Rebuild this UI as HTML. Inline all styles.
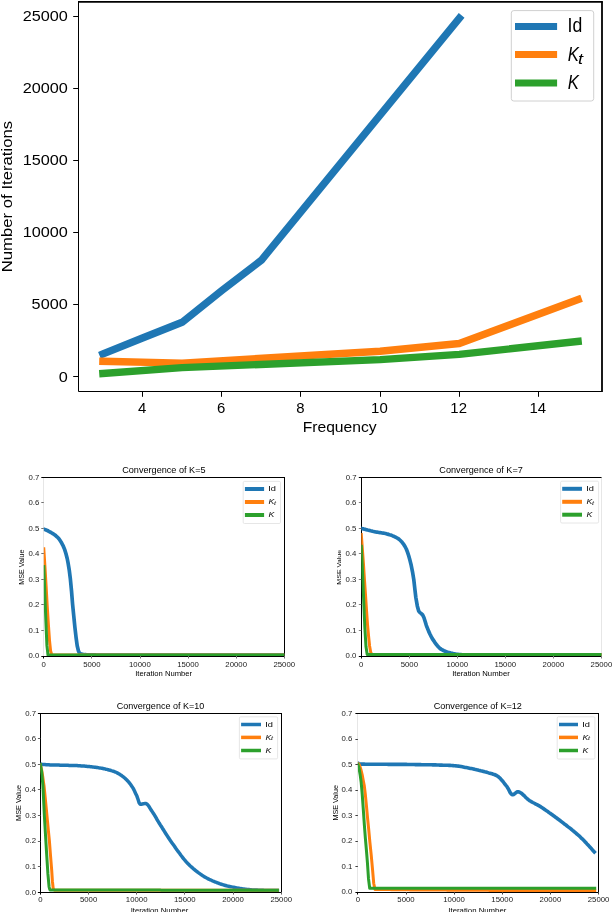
<!DOCTYPE html>
<html><head><meta charset="utf-8"><style>
html,body{margin:0;padding:0;background:#fff;width:612px;height:912px;overflow:hidden}
svg{display:block;will-change:transform}
text{font-family:"Liberation Sans",sans-serif}
</style></head><body>
<svg width="612" height="912" viewBox="0 0 612 912">
<rect width="612" height="912" fill="#fff"/>
<polyline points="102.9,354.0 142.5,338.0 182.1,322.3 221.7,290.6 261.3,260.3 459.3,18.2" fill="none" stroke="#1f77b4" stroke-width="7.4" stroke-linecap="square" stroke-linejoin="round"/>
<polyline points="102.9,361.3 182.1,363.1 380.1,351.3 459.3,343.5 578.1,299.5" fill="none" stroke="#ff7f0e" stroke-width="7.4" stroke-linecap="square" stroke-linejoin="round"/>
<polyline points="102.9,373.5 182.1,367.6 380.1,359.6 459.3,354.4 578.1,341.4" fill="none" stroke="#2ca02c" stroke-width="7.4" stroke-linecap="square" stroke-linejoin="round"/>
<line x1="78.50" y1="1.90" x2="78.50" y2="391.50" stroke="#000" stroke-width="1.0" stroke-linecap="butt"/>
<line x1="78.50" y1="391.50" x2="602.00" y2="391.50" stroke="#000" stroke-width="1.1" stroke-linecap="butt"/>
<line x1="78.00" y1="1.90" x2="602.90" y2="1.90" stroke="#000" stroke-width="1.8" stroke-linecap="butt"/>
<line x1="602.00" y1="1.90" x2="602.00" y2="392.05" stroke="#000" stroke-width="1.8" stroke-linecap="butt"/>
<line x1="73.20" y1="376.50" x2="78.50" y2="376.50" stroke="#000" stroke-width="1.0" stroke-linecap="butt"/>
<text transform="matrix(1.0934 0 0 1 58.75 381.50)" font-size="14.86" fill="#000">0</text>
<line x1="73.20" y1="304.50" x2="78.50" y2="304.50" stroke="#000" stroke-width="1.0" stroke-linecap="butt"/>
<text transform="matrix(1.0934 0 0 1 31.62 309.46)" font-size="14.86" fill="#000">5000</text>
<line x1="73.20" y1="232.50" x2="78.50" y2="232.50" stroke="#000" stroke-width="1.0" stroke-linecap="butt"/>
<text transform="matrix(1.0934 0 0 1 22.69 237.42)" font-size="14.86" fill="#000">10000</text>
<line x1="73.20" y1="160.50" x2="78.50" y2="160.50" stroke="#000" stroke-width="1.0" stroke-linecap="butt"/>
<text transform="matrix(1.0934 0 0 1 22.69 165.38)" font-size="14.86" fill="#000">15000</text>
<line x1="73.20" y1="88.50" x2="78.50" y2="88.50" stroke="#000" stroke-width="1.0" stroke-linecap="butt"/>
<text transform="matrix(1.0934 0 0 1 22.69 93.34)" font-size="14.86" fill="#000">20000</text>
<line x1="73.20" y1="16.50" x2="78.50" y2="16.50" stroke="#000" stroke-width="1.0" stroke-linecap="butt"/>
<text transform="matrix(1.0934 0 0 1 22.69 21.30)" font-size="14.86" fill="#000">25000</text>
<line x1="142.50" y1="391.50" x2="142.50" y2="396.80" stroke="#000" stroke-width="1.0" stroke-linecap="butt"/>
<text transform="matrix(0.9700 0 0 1 137.89 412.90)" font-size="15.40" fill="#000">4</text>
<line x1="221.50" y1="391.50" x2="221.50" y2="396.80" stroke="#000" stroke-width="1.0" stroke-linecap="butt"/>
<text transform="matrix(0.9700 0 0 1 217.02 412.90)" font-size="15.40" fill="#000">6</text>
<line x1="300.50" y1="391.50" x2="300.50" y2="396.80" stroke="#000" stroke-width="1.0" stroke-linecap="butt"/>
<text transform="matrix(0.9700 0 0 1 296.29 412.90)" font-size="15.40" fill="#000">8</text>
<line x1="380.50" y1="391.50" x2="380.50" y2="396.80" stroke="#000" stroke-width="1.0" stroke-linecap="butt"/>
<text transform="matrix(0.9700 0 0 1 371.09 412.90)" font-size="15.40" fill="#000">10</text>
<line x1="459.50" y1="391.50" x2="459.50" y2="396.80" stroke="#000" stroke-width="1.0" stroke-linecap="butt"/>
<text transform="matrix(0.9700 0 0 1 450.36 412.90)" font-size="15.40" fill="#000">12</text>
<line x1="538.50" y1="391.50" x2="538.50" y2="396.80" stroke="#000" stroke-width="1.0" stroke-linecap="butt"/>
<text transform="matrix(0.9700 0 0 1 529.41 412.90)" font-size="15.40" fill="#000">14</text>
<text transform="matrix(1.1145 0 0 1 302.65 432.30)" font-size="14.06" fill="#000">Frequency</text>
<text transform="matrix(0 -1.1419 1 0 12.00 272.34)" font-size="14.66" fill="#000">Number of Iterations</text>
<rect x="511.3" y="10.6" width="82.4" height="90.4" rx="2.5" ry="2.5" fill="#fff" fill-opacity="0.8" stroke="#d0d0d0" stroke-width="1"/>
<line x1="515.00" y1="26.40" x2="557.10" y2="26.40" stroke="#1f77b4" stroke-width="7.0" stroke-linecap="butt"/>
<line x1="515.00" y1="54.50" x2="557.10" y2="54.50" stroke="#ff7f0e" stroke-width="7.0" stroke-linecap="butt"/>
<line x1="515.00" y1="82.90" x2="557.10" y2="82.90" stroke="#2ca02c" stroke-width="7.0" stroke-linecap="butt"/>
<text transform="matrix(0.8588 0 0 1 567.61 31.90)" font-size="20.55" fill="#000">Id</text>
<text transform="matrix(0.8358 0 0 1 567.70 60.70)" font-size="20.00" font-style="italic" fill="#000">K</text>
<text transform="matrix(1.2417 0 0 1 578.07 63.60)" font-size="14.62" font-style="italic" fill="#000">t</text>
<text transform="matrix(0.8544 0 0 1 567.70 88.70)" font-size="19.57" font-style="italic" fill="#000">K</text>
<line x1="43.50" y1="477.50" x2="43.50" y2="656.50" stroke="#e6e6e6" stroke-width="1.0" stroke-linecap="butt"/>
<line x1="43.00" y1="656.50" x2="285.00" y2="656.50" stroke="#000" stroke-width="1.0" stroke-linecap="butt"/>
<line x1="43.00" y1="477.50" x2="285.00" y2="477.50" stroke="#000" stroke-width="1.0" stroke-linecap="butt"/>
<line x1="284.50" y1="477.50" x2="284.50" y2="656.50" stroke="#000" stroke-width="1.0" stroke-linecap="butt"/>
<clipPath id="c4816"><rect x="43.80" y="477.30" width="240.50" height="178.70"/></clipPath><g clip-path="url(#c4816)">
<polyline points="43.8,529.1 44.8,529.5 45.8,529.8 46.8,530.3 47.8,530.7 48.8,531.3 49.8,531.8 50.8,532.4 51.8,533.0 52.8,533.6 53.9,534.3 54.9,535.0 55.9,535.8 57.0,536.8 58.0,537.8 59.1,539.0 60.1,540.5 61.2,542.2 62.2,544.1 63.3,546.2 64.6,549.4 65.9,553.5 67.2,558.5 68.2,563.7 69.3,570.4 70.3,578.4 71.5,590.7 72.6,604.4 73.8,616.4 74.9,627.4 76.1,637.8 77.2,645.8 78.4,650.7 79.5,653.2 80.5,653.7 81.5,654.1 82.5,654.3 83.6,654.5 84.6,654.7 85.6,654.7 86.7,654.8 87.7,654.8 88.8,654.8 89.8,654.8 90.9,654.9 92.0,654.9 93.0,654.9 94.1,654.9 95.2,654.9 96.2,655.0 97.3,655.0 98.3,655.0 99.4,655.0 100.5,655.0 101.5,655.0 102.5,655.0 103.5,655.0 104.5,655.0 105.5,655.0 106.5,655.0 107.5,655.0 108.5,655.0 109.6,655.0 110.6,655.0 111.6,655.0 112.6,655.0 113.6,655.0 114.6,655.0 115.6,655.0 116.6,655.0 117.6,655.0 118.6,655.0 119.6,655.0 120.6,655.0 121.6,655.0 122.6,655.0 123.6,655.0 124.6,655.0 125.6,655.0 126.6,655.0 127.6,655.0 128.6,655.0 129.6,655.0 130.6,655.0 131.6,655.0 132.7,655.0 133.7,655.0 134.7,655.0 135.7,655.0 136.7,655.0 137.7,655.0 138.7,655.0 139.7,655.0 140.7,655.0 141.7,655.0 142.7,655.0 143.7,655.0 144.7,655.0 145.7,655.0 146.7,655.0 147.7,655.0 148.7,655.0 149.7,655.0 150.7,655.0 151.7,655.0 152.7,655.0 153.7,655.0 154.7,655.0 155.8,655.0 156.8,655.0 157.8,655.0 158.8,655.0 159.8,655.0 160.8,655.0 161.8,655.0 162.8,655.0 163.8,655.0 164.8,655.0 165.8,655.0 166.8,655.0 167.8,655.0 168.8,655.0 169.8,655.0 170.8,655.0 171.8,655.0 172.8,655.0 173.8,655.0 174.8,655.0 175.8,655.0 176.8,655.0 177.8,655.0 178.9,655.0 179.9,655.0 180.9,655.0 181.9,655.0 182.9,655.0 183.9,655.0 184.9,655.0 185.9,655.0 186.9,655.0 187.9,655.0 188.9,655.0 189.9,655.0 190.9,655.0 191.9,655.0 192.9,655.0 193.9,655.0 194.9,655.0 195.9,655.0 196.9,655.0 197.9,655.0 198.9,655.0 199.9,655.0 200.9,655.0 201.9,655.0 203.0,655.0 204.0,655.0 205.0,655.0 206.0,655.0 207.0,655.0 208.0,655.0 209.0,655.0 210.0,655.0 211.0,655.0 212.0,655.0 213.0,655.0 214.0,655.0 215.0,655.0 216.0,655.0 217.0,655.0 218.0,655.0 219.0,655.0 220.0,655.0 221.0,655.0 222.0,655.0 223.0,655.0 224.0,655.0 225.0,655.0 226.1,655.0 227.1,655.0 228.1,655.0 229.1,655.0 230.1,655.0 231.1,655.0 232.1,655.0 233.1,655.0 234.1,655.0 235.1,655.0 236.1,655.0 237.1,655.0 238.1,655.0 239.1,655.0 240.1,655.0 241.1,655.0 242.1,655.0 243.1,655.0 244.1,655.0 245.1,655.0 246.1,655.0 247.1,655.0 248.1,655.0 249.2,655.0 250.2,655.0 251.2,655.0 252.2,655.0 253.2,655.0 254.2,655.0 255.2,655.0 256.2,655.0 257.2,655.0 258.2,655.0 259.2,655.0 260.2,655.0 261.2,655.0 262.2,655.0 263.2,655.0 264.2,655.0 265.2,655.0 266.2,655.0 267.2,655.0 268.2,655.0 269.2,655.0 270.2,655.0 271.2,655.0 272.2,655.0 273.3,655.0 274.3,655.0 275.3,655.0 276.3,655.0 277.3,655.0 278.3,655.0 279.3,655.0 280.3,655.0 281.3,655.0 282.3,655.0 283.3,655.0 284.3,655.0" fill="none" stroke="#1f77b4" stroke-width="3.7" stroke-linecap="square" stroke-linejoin="round"/>
<polyline points="43.8,548.8 44.9,566.2 46.1,585.8 47.2,605.9 48.4,624.7 49.5,640.3 50.6,651.0 51.8,655.0 52.8,655.0 53.8,655.0 54.8,655.0 55.8,655.0 56.8,655.0 57.8,655.0 58.8,655.0 59.8,655.0 60.8,655.0 61.8,655.0 62.8,655.0 63.8,655.0 64.8,655.0 65.8,655.0 66.8,655.0 67.8,655.0 68.8,655.0 69.8,655.0 70.8,655.0 71.8,655.0 72.8,655.0 73.8,655.0 74.8,655.0 75.8,655.0 76.8,655.0 77.8,655.0 78.8,655.0 79.8,655.0 80.8,655.0 81.9,655.0 82.9,655.0 83.9,655.0 84.9,655.0 85.9,655.0 86.9,655.0 87.9,655.0 88.9,655.0 89.9,655.0 90.9,655.0 91.9,655.0 92.9,655.0 93.9,655.0 94.9,655.0 95.9,655.0 96.9,655.0 97.9,655.0 98.9,655.0 99.9,655.0 100.9,655.0 101.9,655.0 102.9,655.0 103.9,655.0 104.9,655.0 105.9,655.0 106.9,655.0 107.9,655.0 108.9,655.0 109.9,655.0 110.9,655.0 111.9,655.0 112.9,655.0 113.9,655.0 114.9,655.0 115.9,655.0 116.9,655.0 117.9,655.0 118.9,655.0 119.9,655.0 120.9,655.0 121.9,655.0 122.9,655.0 123.9,655.0 124.9,655.0 125.9,655.0 127.0,655.0 128.0,655.0 129.0,655.0 130.0,655.0 131.0,655.0 132.0,655.0 133.0,655.0 134.0,655.0 135.0,655.0 136.0,655.0 137.0,655.0 138.0,655.0 139.0,655.0 140.0,655.0 141.0,655.0 142.0,655.0 143.0,655.0 144.0,655.0 145.0,655.0 146.0,655.0 147.0,655.0 148.0,655.0 149.0,655.0 150.0,655.0 151.0,655.0 152.0,655.0 153.0,655.0 154.0,655.0 155.0,655.0 156.0,655.0 157.0,655.0 158.0,655.0 159.0,655.0 160.0,655.0 161.0,655.0 162.0,655.0 163.0,655.0 164.0,655.0 165.0,655.0 166.0,655.0 167.0,655.0 168.0,655.0 169.0,655.0 170.0,655.0 171.0,655.0 172.1,655.0 173.1,655.0 174.1,655.0 175.1,655.0 176.1,655.0 177.1,655.0 178.1,655.0 179.1,655.0 180.1,655.0 181.1,655.0 182.1,655.0 183.1,655.0 184.1,655.0 185.1,655.0 186.1,655.0 187.1,655.0 188.1,655.0 189.1,655.0 190.1,655.0 191.1,655.0 192.1,655.0 193.1,655.0 194.1,655.0 195.1,655.0 196.1,655.0 197.1,655.0 198.1,655.0 199.1,655.0 200.1,655.0 201.1,655.0 202.1,655.0 203.1,655.0 204.1,655.0 205.1,655.0 206.1,655.0 207.1,655.0 208.1,655.0 209.1,655.0 210.1,655.0 211.1,655.0 212.1,655.0 213.1,655.0 214.1,655.0 215.1,655.0 216.1,655.0 217.2,655.0 218.2,655.0 219.2,655.0 220.2,655.0 221.2,655.0 222.2,655.0 223.2,655.0 224.2,655.0 225.2,655.0 226.2,655.0 227.2,655.0 228.2,655.0 229.2,655.0 230.2,655.0 231.2,655.0 232.2,655.0 233.2,655.0 234.2,655.0 235.2,655.0 236.2,655.0 237.2,655.0 238.2,655.0 239.2,655.0 240.2,655.0 241.2,655.0 242.2,655.0 243.2,655.0 244.2,655.0 245.2,655.0 246.2,655.0 247.2,655.0 248.2,655.0 249.2,655.0 250.2,655.0 251.2,655.0 252.2,655.0 253.2,655.0 254.2,655.0 255.2,655.0 256.2,655.0 257.2,655.0 258.2,655.0 259.2,655.0 260.2,655.0 261.2,655.0 262.3,655.0 263.3,655.0 264.3,655.0 265.3,655.0 266.3,655.0 267.3,655.0 268.3,655.0 269.3,655.0 270.3,655.0 271.3,655.0 272.3,655.0 273.3,655.0 274.3,655.0 275.3,655.0 276.3,655.0 277.3,655.0 278.3,655.0 279.3,655.0 280.3,655.0 281.3,655.0 282.3,655.0 283.3,655.0 284.3,655.0" fill="none" stroke="#ff7f0e" stroke-width="3.0" stroke-linecap="square" stroke-linejoin="round"/>
<polyline points="43.8,566.6 44.8,593.1 45.9,622.0 46.9,645.4 48.0,655.0 49.0,655.0 50.0,655.0 51.0,655.0 52.0,655.0 53.0,655.0 54.0,655.0 55.0,655.0 56.0,655.0 57.0,655.0 58.0,655.0 59.0,655.0 60.0,655.0 61.0,655.0 62.0,655.0 63.0,655.0 64.0,655.0 65.0,655.0 66.0,655.0 67.0,655.0 68.0,655.0 69.0,655.0 70.0,655.0 71.0,655.0 72.0,655.0 73.0,655.0 74.0,655.0 75.0,655.0 76.0,655.0 77.0,655.0 78.0,655.0 79.0,655.0 80.0,655.0 81.0,655.0 82.0,655.0 83.0,655.0 84.0,655.0 85.0,655.0 86.0,655.0 87.0,655.0 88.0,655.0 89.0,655.0 90.0,655.0 91.0,655.0 92.0,655.0 93.0,655.0 94.0,655.0 95.0,655.0 96.0,655.0 97.1,655.0 98.1,655.0 99.1,655.0 100.1,655.0 101.1,655.0 102.1,655.0 103.1,655.0 104.1,655.0 105.1,655.0 106.1,655.0 107.1,655.0 108.1,655.0 109.1,655.0 110.1,655.0 111.1,655.0 112.1,655.0 113.1,655.0 114.1,655.0 115.1,655.0 116.1,655.0 117.1,655.0 118.1,655.0 119.1,655.0 120.1,655.0 121.1,655.0 122.1,655.0 123.1,655.0 124.1,655.0 125.1,655.0 126.1,655.0 127.1,655.0 128.1,655.0 129.1,655.0 130.1,655.0 131.1,655.0 132.1,655.0 133.1,655.0 134.1,655.0 135.1,655.0 136.1,655.0 137.1,655.0 138.1,655.0 139.1,655.0 140.1,655.0 141.1,655.0 142.1,655.0 143.1,655.0 144.1,655.0 145.1,655.0 146.1,655.0 147.1,655.0 148.1,655.0 149.1,655.0 150.1,655.0 151.1,655.0 152.1,655.0 153.1,655.0 154.1,655.0 155.1,655.0 156.1,655.0 157.1,655.0 158.1,655.0 159.1,655.0 160.1,655.0 161.1,655.0 162.1,655.0 163.1,655.0 164.1,655.0 165.1,655.0 166.1,655.0 167.1,655.0 168.1,655.0 169.1,655.0 170.1,655.0 171.1,655.0 172.2,655.0 173.2,655.0 174.2,655.0 175.2,655.0 176.2,655.0 177.2,655.0 178.2,655.0 179.2,655.0 180.2,655.0 181.2,655.0 182.2,655.0 183.2,655.0 184.2,655.0 185.2,655.0 186.2,655.0 187.2,655.0 188.2,655.0 189.2,655.0 190.2,655.0 191.2,655.0 192.2,655.0 193.2,655.0 194.2,655.0 195.2,655.0 196.2,655.0 197.2,655.0 198.2,655.0 199.2,655.0 200.2,655.0 201.2,655.0 202.2,655.0 203.2,655.0 204.2,655.0 205.2,655.0 206.2,655.0 207.2,655.0 208.2,655.0 209.2,655.0 210.2,655.0 211.2,655.0 212.2,655.0 213.2,655.0 214.2,655.0 215.2,655.0 216.2,655.0 217.2,655.0 218.2,655.0 219.2,655.0 220.2,655.0 221.2,655.0 222.2,655.0 223.2,655.0 224.2,655.0 225.2,655.0 226.2,655.0 227.2,655.0 228.2,655.0 229.2,655.0 230.2,655.0 231.2,655.0 232.2,655.0 233.2,655.0 234.2,655.0 235.2,655.0 236.2,655.0 237.2,655.0 238.2,655.0 239.2,655.0 240.2,655.0 241.2,655.0 242.2,655.0 243.2,655.0 244.2,655.0 245.2,655.0 246.2,655.0 247.3,655.0 248.3,655.0 249.3,655.0 250.3,655.0 251.3,655.0 252.3,655.0 253.3,655.0 254.3,655.0 255.3,655.0 256.3,655.0 257.3,655.0 258.3,655.0 259.3,655.0 260.3,655.0 261.3,655.0 262.3,655.0 263.3,655.0 264.3,655.0 265.3,655.0 266.3,655.0 267.3,655.0 268.3,655.0 269.3,655.0 270.3,655.0 271.3,655.0 272.3,655.0 273.3,655.0 274.3,655.0 275.3,655.0 276.3,655.0 277.3,655.0 278.3,655.0 279.3,655.0 280.3,655.0 281.3,655.0 282.3,655.0 283.3,655.0 284.3,655.0" fill="none" stroke="#2ca02c" stroke-width="3.0" stroke-linecap="square" stroke-linejoin="round"/>
</g>
<line x1="41.30" y1="656.50" x2="43.80" y2="656.50" stroke="#000" stroke-width="1.0" stroke-linecap="butt"/>
<text transform="matrix(1.1152 0 0 1 28.46 658.45)" font-size="7.00" fill="#1a1a1a">0.0</text>
<line x1="41.30" y1="630.50" x2="43.80" y2="630.50" stroke="#707070" stroke-width="1.0" stroke-linecap="butt"/>
<text transform="matrix(1.1152 0 0 1 28.54 632.92)" font-size="7.00" fill="#1a1a1a">0.1</text>
<line x1="41.30" y1="604.50" x2="43.80" y2="604.50" stroke="#707070" stroke-width="1.0" stroke-linecap="butt"/>
<text transform="matrix(1.1152 0 0 1 28.54 607.39)" font-size="7.00" fill="#1a1a1a">0.2</text>
<line x1="41.30" y1="579.50" x2="43.80" y2="579.50" stroke="#707070" stroke-width="1.0" stroke-linecap="butt"/>
<text transform="matrix(1.1152 0 0 1 28.46 581.86)" font-size="7.00" fill="#1a1a1a">0.3</text>
<line x1="41.30" y1="553.50" x2="43.80" y2="553.50" stroke="#707070" stroke-width="1.0" stroke-linecap="butt"/>
<text transform="matrix(1.1152 0 0 1 28.38 556.34)" font-size="7.00" fill="#1a1a1a">0.4</text>
<line x1="41.30" y1="528.50" x2="43.80" y2="528.50" stroke="#707070" stroke-width="1.0" stroke-linecap="butt"/>
<text transform="matrix(1.1152 0 0 1 28.46 530.81)" font-size="7.00" fill="#1a1a1a">0.5</text>
<line x1="41.30" y1="502.50" x2="43.80" y2="502.50" stroke="#707070" stroke-width="1.0" stroke-linecap="butt"/>
<text transform="matrix(1.1152 0 0 1 28.46 505.28)" font-size="7.00" fill="#1a1a1a">0.6</text>
<line x1="41.30" y1="477.50" x2="43.80" y2="477.50" stroke="#000" stroke-width="1.0" stroke-linecap="butt"/>
<text transform="matrix(1.1152 0 0 1 28.54 479.75)" font-size="7.00" fill="#1a1a1a">0.7</text>
<line x1="43.50" y1="656.00" x2="43.50" y2="658.50" stroke="#000" stroke-width="1.0" stroke-linecap="butt"/>
<text transform="matrix(1.1152 0 0 1 41.61 667.10)" font-size="7.00" fill="#1a1a1a">0</text>
<line x1="91.50" y1="656.00" x2="91.50" y2="658.50" stroke="#707070" stroke-width="1.0" stroke-linecap="butt"/>
<text transform="matrix(1.1152 0 0 1 83.20 667.10)" font-size="7.00" fill="#1a1a1a">5000</text>
<line x1="140.50" y1="656.00" x2="140.50" y2="658.50" stroke="#707070" stroke-width="1.0" stroke-linecap="butt"/>
<text transform="matrix(1.1152 0 0 1 129.03 667.10)" font-size="7.00" fill="#1a1a1a">10000</text>
<line x1="188.50" y1="656.00" x2="188.50" y2="658.50" stroke="#707070" stroke-width="1.0" stroke-linecap="butt"/>
<text transform="matrix(1.1152 0 0 1 177.13 667.10)" font-size="7.00" fill="#1a1a1a">15000</text>
<line x1="236.50" y1="656.00" x2="236.50" y2="658.50" stroke="#707070" stroke-width="1.0" stroke-linecap="butt"/>
<text transform="matrix(1.1152 0 0 1 225.31 667.10)" font-size="7.00" fill="#1a1a1a">20000</text>
<line x1="284.50" y1="656.00" x2="284.50" y2="658.50" stroke="#707070" stroke-width="1.0" stroke-linecap="butt"/>
<text transform="matrix(1.1152 0 0 1 273.41 667.10)" font-size="7.00" fill="#1a1a1a">25000</text>
<text transform="matrix(1.0924 0 0 1 122.14 472.90)" font-size="8.36" fill="#000">Convergence of K=5</text>
<text transform="matrix(1.0351 0 0 1 135.21 676.30)" font-size="7.40" fill="#000">Iteration Number</text>
<text transform="matrix(0 -1.0411 1 0 24.20 584.67)" font-size="6.85" fill="#000">MSE Value</text>
<rect x="243.2" y="481.4" width="37.30" height="42.10" rx="1.3" ry="1.3" fill="#fff" stroke="#e0e0e0" stroke-width="0.8"/>
<line x1="244.90" y1="489.00" x2="264.10" y2="489.00" stroke="#1f77b4" stroke-width="4.0" stroke-linecap="butt"/>
<line x1="244.90" y1="502.00" x2="264.10" y2="502.00" stroke="#ff7f0e" stroke-width="4.0" stroke-linecap="butt"/>
<line x1="244.90" y1="515.00" x2="264.10" y2="515.00" stroke="#2ca02c" stroke-width="4.0" stroke-linecap="butt"/>
<text transform="matrix(1.1865 0 0 1 268.27 491.00)" font-size="7.81" fill="#000">Id</text>
<text transform="matrix(1.0850 0 0 1 268.54 504.10)" font-size="8.12" font-style="italic" fill="#000">K</text>
<text transform="matrix(1.5046 0 0 1 274.10 505.00)" font-size="4.92" font-style="italic" fill="#000">t</text>
<text transform="matrix(1.0850 0 0 1 268.54 517.10)" font-size="8.12" font-style="italic" fill="#000">K</text>
<line x1="361.50" y1="477.50" x2="361.50" y2="656.50" stroke="#000" stroke-width="1.0" stroke-linecap="butt"/>
<line x1="361.00" y1="656.50" x2="602.00" y2="656.50" stroke="#000" stroke-width="1.0" stroke-linecap="butt"/>
<line x1="361.00" y1="477.50" x2="602.00" y2="477.50" stroke="#000" stroke-width="1.0" stroke-linecap="butt"/>
<line x1="601.50" y1="477.50" x2="601.50" y2="656.50" stroke="#e6e6e6" stroke-width="1.0" stroke-linecap="butt"/>
<clipPath id="c5135"><rect x="361.30" y="477.40" width="240.20" height="178.60"/></clipPath><g clip-path="url(#c5135)">
<polyline points="361.3,528.4 361.9,528.6 362.5,528.7 363.5,528.9 364.5,529.2 365.5,529.4 366.5,529.7 367.5,530.0 368.6,530.2 369.6,530.5 370.6,530.8 371.6,531.0 372.6,531.3 373.6,531.5 374.6,531.7 375.7,532.0 376.8,532.1 377.8,532.3 378.9,532.5 380.0,532.6 381.1,532.8 382.1,533.0 383.2,533.1 384.3,533.3 385.4,533.5 386.4,533.8 387.5,534.1 388.6,534.4 389.6,534.7 390.7,535.0 391.7,535.4 392.8,535.9 393.9,536.3 394.9,536.8 396.0,537.4 397.1,538.0 398.1,538.6 399.3,539.5 400.4,540.5 401.6,541.7 402.7,543.1 403.9,544.7 405.0,546.5 406.3,549.0 407.5,552.1 408.7,555.8 409.9,560.1 411.2,565.3 412.5,571.8 413.8,579.7 414.8,588.6 415.8,597.3 417.3,605.9 418.7,611.1 420.0,612.6 421.3,613.6 422.6,614.9 423.9,617.5 425.1,621.3 426.3,625.3 427.6,628.7 428.7,631.4 429.9,634.0 431.1,636.4 432.3,638.6 433.5,640.4 434.6,642.1 435.7,643.6 436.8,645.1 438.0,646.4 439.1,647.6 440.2,648.6 441.4,649.4 442.5,650.0 443.5,650.5 444.6,651.1 445.7,651.5 446.8,651.9 447.9,652.3 449.0,652.6 450.1,652.9 451.2,653.2 452.3,653.4 453.4,653.7 454.4,653.9 455.5,654.1 456.6,654.3 457.7,654.4 458.8,654.6 459.9,654.7 461.0,654.7 462.0,654.8 463.1,654.8 464.1,654.8 465.1,654.8 466.2,654.9 467.2,654.9 468.3,654.9 469.3,654.9 470.4,654.9 471.4,654.9 472.4,655.0 473.5,655.0 474.5,655.0 475.6,655.0 476.6,655.0 477.6,655.0 478.6,655.0 479.6,655.0 480.6,655.0 481.6,655.0 482.6,655.0 483.6,655.0 484.7,655.0 485.7,655.0 486.7,655.0 487.7,655.0 488.7,655.0 489.7,655.0 490.7,655.0 491.7,655.0 492.7,655.0 493.7,655.0 494.7,655.0 495.7,655.0 496.7,655.0 497.7,655.0 498.8,655.0 499.8,655.0 500.8,655.0 501.8,655.0 502.8,655.0 503.8,655.0 504.8,655.0 505.8,655.0 506.8,655.0 507.8,655.0 508.8,655.0 509.8,655.0 510.8,655.0 511.9,655.0 512.9,655.0 513.9,655.0 514.9,655.0 515.9,655.0 516.9,655.0 517.9,655.0 518.9,655.0 519.9,655.0 520.9,655.0 521.9,655.0 522.9,655.0 523.9,655.0 524.9,655.0 526.0,655.0 527.0,655.0 528.0,655.0 529.0,655.0 530.0,655.0 531.0,655.0 532.0,655.0 533.0,655.0 534.0,655.0 535.0,655.0 536.0,655.0 537.0,655.0 538.0,655.0 539.0,655.0 540.1,655.0 541.1,655.0 542.1,655.0 543.1,655.0 544.1,655.0 545.1,655.0 546.1,655.0 547.1,655.0 548.1,655.0 549.1,655.0 550.1,655.0 551.1,655.0 552.1,655.0 553.2,655.0 554.2,655.0 555.2,655.0 556.2,655.0 557.2,655.0 558.2,655.0 559.2,655.0 560.2,655.0 561.2,655.0 562.2,655.0 563.2,655.0 564.2,655.0 565.2,655.0 566.2,655.0 567.3,655.0 568.3,655.0 569.3,655.0 570.3,655.0 571.3,655.0 572.3,655.0 573.3,655.0 574.3,655.0 575.3,655.0 576.3,655.0 577.3,655.0 578.3,655.0 579.3,655.0 580.3,655.0 581.4,655.0 582.4,655.0 583.4,655.0 584.4,655.0 585.4,655.0 586.4,655.0 587.4,655.0 588.4,655.0 589.4,655.0 590.4,655.0 591.4,655.0 592.4,655.0 593.4,655.0 594.4,655.0 595.5,655.0 596.5,655.0 597.5,655.0 598.5,655.0 599.5,655.0 600.5,655.0 601.5,655.0" fill="none" stroke="#1f77b4" stroke-width="3.7" stroke-linecap="square" stroke-linejoin="round"/>
<polyline points="361.3,534.6 362.3,548.0 363.4,563.0 364.4,578.8 365.5,594.8 366.5,610.1 367.5,624.3 368.6,636.4 369.6,646.0 370.7,652.2 371.7,654.5 372.7,654.5 373.7,654.5 374.7,654.5 375.7,654.5 376.7,654.5 377.7,654.5 378.7,654.5 379.7,654.5 380.7,654.5 381.7,654.5 382.7,654.5 383.7,654.5 384.8,654.5 385.8,654.5 386.8,654.5 387.8,654.5 388.8,654.5 389.8,654.5 390.8,654.5 391.8,654.5 392.8,654.5 393.8,654.5 394.8,654.5 395.8,654.5 396.8,654.5 397.8,654.5 398.8,654.5 399.8,654.5 400.8,654.5 401.8,654.5 402.8,654.5 403.8,654.5 404.8,654.5 405.8,654.5 406.8,654.5 407.8,654.5 408.8,654.5 409.8,654.5 410.8,654.5 411.8,654.5 412.8,654.5 413.9,654.5 414.9,654.5 415.9,654.5 416.9,654.5 417.9,654.5 418.9,654.5 419.9,654.5 420.9,654.5 421.9,654.5 422.9,654.5 423.9,654.5 424.9,654.5 425.9,654.5 426.9,654.5 427.9,654.5 428.9,654.5 429.9,654.5 430.9,654.5 431.9,654.5 432.9,654.5 433.9,654.5 434.9,654.5 435.9,654.5 436.9,654.5 437.9,654.5 438.9,654.5 439.9,654.5 440.9,654.5 441.9,654.5 443.0,654.5 444.0,654.5 445.0,654.5 446.0,654.5 447.0,654.5 448.0,654.5 449.0,654.5 450.0,654.5 451.0,654.5 452.0,654.5 453.0,654.5 454.0,654.5 455.0,654.5 456.0,654.5 457.0,654.5 458.0,654.5 459.0,654.5 460.0,654.5 461.0,654.5 462.0,654.5 463.0,654.5 464.0,654.5 465.0,654.5 466.0,654.5 467.0,654.5 468.0,654.5 469.0,654.5 470.0,654.5 471.0,654.5 472.1,654.5 473.1,654.5 474.1,654.5 475.1,654.5 476.1,654.5 477.1,654.5 478.1,654.5 479.1,654.5 480.1,654.5 481.1,654.5 482.1,654.5 483.1,654.5 484.1,654.5 485.1,654.5 486.1,654.5 487.1,654.5 488.1,654.5 489.1,654.5 490.1,654.5 491.1,654.5 492.1,654.5 493.1,654.5 494.1,654.5 495.1,654.5 496.1,654.5 497.1,654.5 498.1,654.5 499.1,654.5 500.1,654.5 501.2,654.5 502.2,654.5 503.2,654.5 504.2,654.5 505.2,654.5 506.2,654.5 507.2,654.5 508.2,654.5 509.2,654.5 510.2,654.5 511.2,654.5 512.2,654.5 513.2,654.5 514.2,654.5 515.2,654.5 516.2,654.5 517.2,654.5 518.2,654.5 519.2,654.5 520.2,654.5 521.2,654.5 522.2,654.5 523.2,654.5 524.2,654.5 525.2,654.5 526.2,654.5 527.2,654.5 528.2,654.5 529.3,654.5 530.3,654.5 531.3,654.5 532.3,654.5 533.3,654.5 534.3,654.5 535.3,654.5 536.3,654.5 537.3,654.5 538.3,654.5 539.3,654.5 540.3,654.5 541.3,654.5 542.3,654.5 543.3,654.5 544.3,654.5 545.3,654.5 546.3,654.5 547.3,654.5 548.3,654.5 549.3,654.5 550.3,654.5 551.3,654.5 552.3,654.5 553.3,654.5 554.3,654.5 555.3,654.5 556.3,654.5 557.3,654.5 558.4,654.5 559.4,654.5 560.4,654.5 561.4,654.5 562.4,654.5 563.4,654.5 564.4,654.5 565.4,654.5 566.4,654.5 567.4,654.5 568.4,654.5 569.4,654.5 570.4,654.5 571.4,654.5 572.4,654.5 573.4,654.5 574.4,654.5 575.4,654.5 576.4,654.5 577.4,654.5 578.4,654.5 579.4,654.5 580.4,654.5 581.4,654.5 582.4,654.5 583.4,654.5 584.4,654.5 585.4,654.5 586.4,654.5 587.5,654.5 588.5,654.5 589.5,654.5 590.5,654.5 591.5,654.5 592.5,654.5 593.5,654.5 594.5,654.5 595.5,654.5 596.5,654.5 597.5,654.5 598.5,654.5 599.5,654.5 600.5,654.5 601.5,654.5" fill="none" stroke="#ff7f0e" stroke-width="3.0" stroke-linecap="square" stroke-linejoin="round"/>
<polyline points="361.3,546.3 362.5,571.7 363.7,600.3 364.8,627.0 366.0,646.8 367.2,654.5 368.2,654.5 369.2,654.5 370.2,654.5 371.2,654.5 372.2,654.5 373.2,654.5 374.2,654.5 375.2,654.5 376.2,654.5 377.2,654.5 378.2,654.5 379.2,654.5 380.2,654.5 381.2,654.5 382.2,654.5 383.2,654.5 384.2,654.5 385.2,654.5 386.2,654.5 387.2,654.5 388.2,654.5 389.2,654.5 390.2,654.5 391.2,654.5 392.2,654.5 393.2,654.5 394.2,654.5 395.2,654.5 396.2,654.5 397.2,654.5 398.2,654.5 399.2,654.5 400.2,654.5 401.3,654.5 402.3,654.5 403.3,654.5 404.3,654.5 405.3,654.5 406.3,654.5 407.3,654.5 408.3,654.5 409.3,654.5 410.3,654.5 411.3,654.5 412.3,654.5 413.3,654.5 414.3,654.5 415.3,654.5 416.3,654.5 417.3,654.5 418.3,654.5 419.3,654.5 420.3,654.5 421.3,654.5 422.3,654.5 423.3,654.5 424.3,654.5 425.3,654.5 426.3,654.5 427.3,654.5 428.3,654.5 429.3,654.5 430.3,654.5 431.3,654.5 432.3,654.5 433.3,654.5 434.3,654.5 435.3,654.5 436.3,654.5 437.3,654.5 438.3,654.5 439.3,654.5 440.3,654.5 441.3,654.5 442.3,654.5 443.3,654.5 444.3,654.5 445.3,654.5 446.3,654.5 447.3,654.5 448.3,654.5 449.3,654.5 450.3,654.5 451.3,654.5 452.3,654.5 453.3,654.5 454.3,654.5 455.3,654.5 456.3,654.5 457.3,654.5 458.3,654.5 459.3,654.5 460.3,654.5 461.3,654.5 462.3,654.5 463.3,654.5 464.3,654.5 465.3,654.5 466.3,654.5 467.3,654.5 468.3,654.5 469.3,654.5 470.3,654.5 471.3,654.5 472.3,654.5 473.3,654.5 474.3,654.5 475.3,654.5 476.3,654.5 477.3,654.5 478.3,654.5 479.3,654.5 480.3,654.5 481.4,654.5 482.4,654.5 483.4,654.5 484.4,654.5 485.4,654.5 486.4,654.5 487.4,654.5 488.4,654.5 489.4,654.5 490.4,654.5 491.4,654.5 492.4,654.5 493.4,654.5 494.4,654.5 495.4,654.5 496.4,654.5 497.4,654.5 498.4,654.5 499.4,654.5 500.4,654.5 501.4,654.5 502.4,654.5 503.4,654.5 504.4,654.5 505.4,654.5 506.4,654.5 507.4,654.5 508.4,654.5 509.4,654.5 510.4,654.5 511.4,654.5 512.4,654.5 513.4,654.5 514.4,654.5 515.4,654.5 516.4,654.5 517.4,654.5 518.4,654.5 519.4,654.5 520.4,654.5 521.4,654.5 522.4,654.5 523.4,654.5 524.4,654.5 525.4,654.5 526.4,654.5 527.4,654.5 528.4,654.5 529.4,654.5 530.4,654.5 531.4,654.5 532.4,654.5 533.4,654.5 534.4,654.5 535.4,654.5 536.4,654.5 537.4,654.5 538.4,654.5 539.4,654.5 540.4,654.5 541.4,654.5 542.4,654.5 543.4,654.5 544.4,654.5 545.4,654.5 546.4,654.5 547.4,654.5 548.4,654.5 549.4,654.5 550.4,654.5 551.4,654.5 552.4,654.5 553.4,654.5 554.4,654.5 555.4,654.5 556.4,654.5 557.4,654.5 558.4,654.5 559.4,654.5 560.4,654.5 561.5,654.5 562.5,654.5 563.5,654.5 564.5,654.5 565.5,654.5 566.5,654.5 567.5,654.5 568.5,654.5 569.5,654.5 570.5,654.5 571.5,654.5 572.5,654.5 573.5,654.5 574.5,654.5 575.5,654.5 576.5,654.5 577.5,654.5 578.5,654.5 579.5,654.5 580.5,654.5 581.5,654.5 582.5,654.5 583.5,654.5 584.5,654.5 585.5,654.5 586.5,654.5 587.5,654.5 588.5,654.5 589.5,654.5 590.5,654.5 591.5,654.5 592.5,654.5 593.5,654.5 594.5,654.5 595.5,654.5 596.5,654.5 597.5,654.5 598.5,654.5 599.5,654.5 600.5,654.5 601.5,654.5" fill="none" stroke="#2ca02c" stroke-width="3.0" stroke-linecap="square" stroke-linejoin="round"/>
</g>
<line x1="358.80" y1="656.50" x2="361.30" y2="656.50" stroke="#000" stroke-width="1.0" stroke-linecap="butt"/>
<text transform="matrix(1.1152 0 0 1 345.56 658.45)" font-size="7.00" fill="#1a1a1a">0.0</text>
<line x1="358.80" y1="630.50" x2="361.30" y2="630.50" stroke="#808080" stroke-width="1.0" stroke-linecap="butt"/>
<text transform="matrix(1.1152 0 0 1 345.64 632.94)" font-size="7.00" fill="#1a1a1a">0.1</text>
<line x1="358.80" y1="604.50" x2="361.30" y2="604.50" stroke="#808080" stroke-width="1.0" stroke-linecap="butt"/>
<text transform="matrix(1.1152 0 0 1 345.64 607.42)" font-size="7.00" fill="#1a1a1a">0.2</text>
<line x1="358.80" y1="579.50" x2="361.30" y2="579.50" stroke="#808080" stroke-width="1.0" stroke-linecap="butt"/>
<text transform="matrix(1.1152 0 0 1 345.56 581.91)" font-size="7.00" fill="#1a1a1a">0.3</text>
<line x1="358.80" y1="553.50" x2="361.30" y2="553.50" stroke="#808080" stroke-width="1.0" stroke-linecap="butt"/>
<text transform="matrix(1.1152 0 0 1 345.48 556.39)" font-size="7.00" fill="#1a1a1a">0.4</text>
<line x1="358.80" y1="528.50" x2="361.30" y2="528.50" stroke="#808080" stroke-width="1.0" stroke-linecap="butt"/>
<text transform="matrix(1.1152 0 0 1 345.56 530.88)" font-size="7.00" fill="#1a1a1a">0.5</text>
<line x1="358.80" y1="502.50" x2="361.30" y2="502.50" stroke="#808080" stroke-width="1.0" stroke-linecap="butt"/>
<text transform="matrix(1.1152 0 0 1 345.56 505.36)" font-size="7.00" fill="#1a1a1a">0.6</text>
<line x1="358.80" y1="477.50" x2="361.30" y2="477.50" stroke="#000" stroke-width="1.0" stroke-linecap="butt"/>
<text transform="matrix(1.1152 0 0 1 345.64 479.85)" font-size="7.00" fill="#1a1a1a">0.7</text>
<line x1="361.50" y1="656.00" x2="361.50" y2="658.50" stroke="#000" stroke-width="1.0" stroke-linecap="butt"/>
<text transform="matrix(1.1152 0 0 1 359.11 667.10)" font-size="7.00" fill="#1a1a1a">0</text>
<line x1="409.50" y1="656.00" x2="409.50" y2="658.50" stroke="#808080" stroke-width="1.0" stroke-linecap="butt"/>
<text transform="matrix(1.1152 0 0 1 400.64 667.10)" font-size="7.00" fill="#1a1a1a">5000</text>
<line x1="457.50" y1="656.00" x2="457.50" y2="658.50" stroke="#808080" stroke-width="1.0" stroke-linecap="butt"/>
<text transform="matrix(1.1152 0 0 1 446.41 667.10)" font-size="7.00" fill="#1a1a1a">10000</text>
<line x1="505.50" y1="656.00" x2="505.50" y2="658.50" stroke="#808080" stroke-width="1.0" stroke-linecap="butt"/>
<text transform="matrix(1.1152 0 0 1 494.45 667.10)" font-size="7.00" fill="#1a1a1a">15000</text>
<line x1="553.50" y1="656.00" x2="553.50" y2="658.50" stroke="#808080" stroke-width="1.0" stroke-linecap="butt"/>
<text transform="matrix(1.1152 0 0 1 542.57 667.10)" font-size="7.00" fill="#1a1a1a">20000</text>
<line x1="601.50" y1="656.00" x2="601.50" y2="658.50" stroke="#808080" stroke-width="1.0" stroke-linecap="butt"/>
<text transform="matrix(1.1152 0 0 1 590.61 667.10)" font-size="7.00" fill="#1a1a1a">25000</text>
<text transform="matrix(1.0923 0 0 1 439.34 472.90)" font-size="8.36" fill="#000">Convergence of K=7</text>
<text transform="matrix(1.0289 0 0 1 452.20 676.40)" font-size="7.53" fill="#000">Iteration Number</text>
<text transform="matrix(0 -1.1501 1 0 341.40 584.67)" font-size="6.16" fill="#000">MSE Value</text>
<rect x="560.6" y="481.2" width="38.00" height="41.80" rx="1.3" ry="1.3" fill="#fff" stroke="#e0e0e0" stroke-width="0.8"/>
<line x1="562.20" y1="488.80" x2="582.00" y2="488.80" stroke="#1f77b4" stroke-width="4.0" stroke-linecap="butt"/>
<line x1="562.20" y1="501.80" x2="582.00" y2="501.80" stroke="#ff7f0e" stroke-width="4.0" stroke-linecap="butt"/>
<line x1="562.20" y1="514.70" x2="582.00" y2="514.70" stroke="#2ca02c" stroke-width="4.0" stroke-linecap="butt"/>
<text transform="matrix(1.1865 0 0 1 586.17 490.80)" font-size="7.81" fill="#000">Id</text>
<text transform="matrix(1.0850 0 0 1 586.44 503.90)" font-size="8.12" font-style="italic" fill="#000">K</text>
<text transform="matrix(1.5046 0 0 1 592.00 504.80)" font-size="4.92" font-style="italic" fill="#000">t</text>
<text transform="matrix(1.0850 0 0 1 586.44 516.80)" font-size="8.12" font-style="italic" fill="#000">K</text>
<line x1="40.50" y1="713.50" x2="40.50" y2="892.50" stroke="#000" stroke-width="1.0" stroke-linecap="butt"/>
<line x1="40.00" y1="892.50" x2="282.00" y2="892.50" stroke="#000" stroke-width="1.0" stroke-linecap="butt"/>
<line x1="40.00" y1="713.50" x2="282.00" y2="713.50" stroke="#000" stroke-width="1.0" stroke-linecap="butt"/>
<line x1="281.50" y1="713.50" x2="281.50" y2="892.50" stroke="#000" stroke-width="1.0" stroke-linecap="butt"/>
<clipPath id="c7174"><rect x="40.40" y="713.40" width="240.90" height="178.70"/></clipPath><g clip-path="url(#c7174)">
<polyline points="40.4,764.2 41.2,764.3 42.0,764.5 43.0,764.5 44.0,764.6 45.0,764.6 46.0,764.7 47.0,764.8 48.0,764.8 49.0,764.8 50.0,764.9 51.0,764.9 52.0,765.0 53.0,765.0 54.0,765.0 55.0,765.0 56.0,765.1 57.0,765.1 58.0,765.1 59.0,765.1 60.0,765.2 61.1,765.2 62.1,765.2 63.1,765.2 64.1,765.2 65.1,765.3 66.1,765.3 67.1,765.3 68.1,765.3 69.1,765.4 70.1,765.4 71.1,765.4 72.1,765.4 73.1,765.5 74.1,765.5 75.1,765.5 76.1,765.6 77.1,765.6 78.1,765.7 79.1,765.7 80.1,765.8 81.2,765.9 82.2,765.9 83.2,766.0 84.3,766.1 85.3,766.2 86.3,766.3 87.4,766.4 88.4,766.5 89.4,766.6 90.4,766.7 91.5,766.8 92.5,766.9 93.5,767.1 94.6,767.2 95.6,767.3 96.6,767.5 97.7,767.6 98.7,767.8 99.7,767.9 100.8,768.1 101.8,768.3 102.9,768.5 103.9,768.7 104.9,768.9 106.0,769.2 107.0,769.4 108.1,769.7 109.1,770.0 110.2,770.2 111.2,770.6 112.2,770.9 113.3,771.2 114.3,771.6 115.4,772.0 116.5,772.5 117.6,773.1 118.7,773.7 119.7,774.3 120.8,775.1 121.9,775.8 123.0,776.6 124.1,777.5 125.2,778.4 126.3,779.5 127.5,780.7 128.6,781.9 129.7,783.3 130.8,784.8 131.9,786.4 133.2,788.4 134.4,790.8 135.6,793.4 136.9,796.1 138.0,799.3 139.1,802.7 140.2,804.3 141.2,804.2 142.3,804.0 143.4,803.8 144.5,803.6 145.6,803.5 146.7,803.9 147.9,805.0 149.0,806.5 150.1,808.3 151.3,810.2 152.4,811.9 153.6,813.7 154.8,815.7 156.0,817.7 157.1,819.7 158.3,821.6 159.3,823.3 160.3,824.9 161.4,826.5 162.4,828.2 163.4,829.8 164.4,831.4 165.4,833.0 166.4,834.6 167.5,836.2 168.5,837.7 169.5,839.3 170.5,840.8 171.5,842.2 172.6,843.7 173.6,845.1 174.6,846.5 175.6,848.0 176.6,849.4 177.6,850.8 178.7,852.2 179.7,853.6 180.7,855.0 181.7,856.3 182.7,857.6 183.7,858.9 184.8,860.1 185.8,861.3 186.8,862.5 187.8,863.6 188.8,864.6 189.8,865.6 190.9,866.5 191.9,867.4 192.9,868.3 193.9,869.1 194.9,870.0 196.0,870.8 197.0,871.6 198.0,872.4 199.0,873.1 200.1,873.9 201.1,874.6 202.1,875.3 203.1,875.9 204.1,876.6 205.2,877.2 206.2,877.8 207.2,878.3 208.2,878.9 209.3,879.4 210.3,879.8 211.3,880.3 212.3,880.8 213.3,881.2 214.3,881.6 215.4,882.0 216.4,882.4 217.4,882.8 218.4,883.2 219.4,883.6 220.4,884.0 221.5,884.3 222.5,884.6 223.5,884.9 224.5,885.2 225.5,885.5 226.5,885.8 227.6,886.1 228.6,886.3 229.6,886.5 230.6,886.7 231.6,886.9 232.7,887.1 233.7,887.3 234.7,887.5 235.7,887.7 236.7,887.9 237.7,888.1 238.8,888.2 239.8,888.4 240.8,888.6 241.8,888.7 242.8,888.9 243.9,889.0 244.9,889.2 245.9,889.3 246.9,889.4 247.9,889.5 248.9,889.6 250.0,889.7 251.0,889.8 252.0,889.9 253.0,890.0 254.0,890.0 255.1,890.1 256.1,890.1 257.1,890.1 258.1,890.2 259.1,890.2 260.1,890.2 261.2,890.3 262.2,890.3 263.2,890.3 264.2,890.4 265.2,890.4 266.3,890.4 267.3,890.4 268.3,890.5 269.3,890.5 270.3,890.5 271.3,890.5 272.4,890.5 273.4,890.5 274.4,890.6 275.4,890.6 276.4,890.6 277.4,890.6" fill="none" stroke="#1f77b4" stroke-width="3.5" stroke-linecap="square" stroke-linejoin="round"/>
<polyline points="40.4,764.7 41.6,769.8 42.8,777.1 44.0,785.6 45.1,796.5 46.3,808.9 47.3,819.3 48.3,829.8 49.4,841.0 50.5,855.3 51.7,870.1 52.4,881.2 53.2,888.5 53.8,889.7 54.4,890.2 55.4,890.2 56.4,890.2 57.4,890.2 58.4,890.2 59.4,890.2 60.4,890.2 61.4,890.2 62.4,890.2 63.4,890.2 64.4,890.2 65.4,890.2 66.4,890.2 67.4,890.2 68.4,890.2 69.4,890.2 70.4,890.2 71.4,890.2 72.4,890.2 73.4,890.2 74.4,890.2 75.4,890.2 76.4,890.2 77.4,890.2 78.4,890.2 79.4,890.2 80.4,890.2 81.4,890.2 82.4,890.2 83.4,890.2 84.4,890.2 85.4,890.2 86.4,890.2 87.4,890.2 88.4,890.2 89.4,890.2 90.4,890.2 91.4,890.2 92.4,890.2 93.4,890.2 94.4,890.2 95.4,890.2 96.4,890.2 97.4,890.2 98.4,890.2 99.4,890.2 100.4,890.2 101.4,890.2 102.4,890.2 103.4,890.2 104.4,890.2 105.4,890.2 106.4,890.2 107.4,890.2 108.4,890.2 109.4,890.2 110.4,890.2 111.4,890.2 112.4,890.2 113.4,890.2 114.4,890.2 115.4,890.2 116.4,890.2 117.4,890.2 118.4,890.2 119.4,890.2 120.4,890.2 121.4,890.2 122.4,890.2 123.4,890.2 124.4,890.2 125.4,890.2 126.4,890.2 127.4,890.2 128.4,890.2 129.4,890.2 130.4,890.2 131.4,890.2 132.4,890.2 133.4,890.2 134.4,890.2 135.4,890.2 136.4,890.2 137.4,890.2 138.4,890.2 139.4,890.2 140.4,890.2 141.4,890.2 142.4,890.2 143.4,890.2 144.4,890.2 145.4,890.2 146.4,890.2 147.4,890.2 148.4,890.2 149.4,890.2 150.4,890.2 151.4,890.2 152.4,890.2 153.4,890.2 154.4,890.2 155.4,890.2 156.4,890.2 157.4,890.2 158.4,890.2 159.4,890.2 160.4,890.2 161.4,890.2 162.4,890.2 163.4,890.2 164.4,890.2 165.4,890.2 166.4,890.2 167.4,890.2 168.4,890.2 169.4,890.2 170.4,890.2 171.4,890.2 172.4,890.2 173.4,890.2 174.4,890.2 175.4,890.2 176.4,890.2 177.4,890.2 178.4,890.2 179.4,890.2 180.4,890.2 181.4,890.2 182.4,890.2 183.4,890.2 184.4,890.2 185.4,890.2 186.4,890.2 187.4,890.2 188.4,890.2 189.4,890.2 190.4,890.2 191.4,890.2 192.4,890.2 193.4,890.2 194.4,890.2 195.4,890.2 196.4,890.2 197.4,890.2 198.4,890.2 199.4,890.2 200.4,890.2 201.4,890.2 202.4,890.2 203.4,890.2 204.4,890.2 205.4,890.2 206.4,890.2 207.4,890.2 208.4,890.2 209.4,890.2 210.4,890.2 211.4,890.2 212.4,890.2 213.4,890.2 214.4,890.2 215.4,890.2 216.4,890.2 217.4,890.2 218.4,890.2 219.4,890.2 220.4,890.2 221.4,890.2 222.4,890.2 223.4,890.2 224.4,890.2 225.4,890.2 226.4,890.2 227.4,890.2 228.4,890.2 229.4,890.2 230.4,890.2 231.4,890.2 232.4,890.2 233.4,890.2 234.4,890.2 235.4,890.2 236.4,890.2 237.4,890.2 238.4,890.2 239.4,890.2 240.4,890.2 241.4,890.2 242.4,890.2 243.4,890.2 244.4,890.2 245.4,890.2 246.4,890.2 247.4,890.2 248.4,890.2 249.4,890.2 250.4,890.2 251.4,890.2 252.4,890.2 253.4,890.2 254.4,890.2 255.4,890.2 256.4,890.2 257.4,890.2 258.4,890.2 259.4,890.2 260.4,890.2 261.4,890.2 262.4,890.2 263.4,890.2 264.4,890.2 265.4,890.2 266.4,890.2 267.4,890.2 268.4,890.2 269.4,890.2 270.4,890.2 271.4,890.2 272.4,890.2 273.4,890.2 274.4,890.2 275.4,890.2 276.4,890.2 277.4,890.2" fill="none" stroke="#ff7f0e" stroke-width="3.0" stroke-linecap="square" stroke-linejoin="round"/>
<polyline points="40.4,764.5 41.6,771.5 42.9,785.6 43.6,799.8 44.4,816.3 45.6,836.6 46.7,854.8 47.9,873.9 49.1,887.0 49.6,889.0 50.0,889.9 51.0,889.9 52.0,889.9 53.0,889.9 54.0,889.9 55.0,889.9 56.0,889.9 57.0,890.0 58.1,890.0 59.1,890.0 60.1,890.0 61.1,890.0 62.1,890.0 63.1,890.0 64.1,890.0 65.1,890.0 66.1,890.0 67.1,890.0 68.1,890.0 69.1,890.0 70.1,890.0 71.1,890.0 72.1,890.0 73.1,890.0 74.1,890.0 75.1,890.0 76.1,890.0 77.1,890.0 78.1,890.0 79.1,890.0 80.1,890.0 81.1,890.0 82.1,890.0 83.1,890.0 84.1,890.0 85.1,890.0 86.1,890.0 87.1,890.0 88.1,890.0 89.1,890.0 90.1,890.0 91.1,890.0 92.1,890.0 93.1,890.0 94.1,890.1 95.1,890.1 96.1,890.1 97.1,890.1 98.1,890.1 99.1,890.1 100.1,890.1 101.1,890.1 102.1,890.1 103.1,890.1 104.1,890.1 105.1,890.1 106.1,890.1 107.1,890.1 108.1,890.1 109.1,890.1 110.1,890.1 111.1,890.1 112.1,890.1 113.1,890.1 114.2,890.1 115.2,890.1 116.2,890.1 117.2,890.1 118.2,890.1 119.2,890.1 120.2,890.1 121.2,890.1 122.2,890.1 123.2,890.1 124.2,890.1 125.2,890.1 126.2,890.1 127.2,890.1 128.2,890.1 129.2,890.1 130.2,890.1 131.2,890.1 132.2,890.1 133.2,890.1 134.2,890.1 135.2,890.1 136.2,890.1 137.2,890.1 138.2,890.1 139.2,890.1 140.2,890.1 141.2,890.1 142.2,890.1 143.2,890.1 144.2,890.1 145.2,890.1 146.2,890.1 147.2,890.1 148.2,890.1 149.2,890.1 150.2,890.1 151.2,890.1 152.2,890.1 153.2,890.1 154.2,890.1 155.2,890.1 156.2,890.1 157.2,890.1 158.2,890.1 159.2,890.1 160.2,890.1 161.2,890.2 162.2,890.2 163.2,890.2 164.2,890.2 165.2,890.2 166.2,890.2 167.2,890.2 168.2,890.2 169.3,890.2 170.3,890.2 171.3,890.2 172.3,890.2 173.3,890.2 174.3,890.2 175.3,890.2 176.3,890.2 177.3,890.2 178.3,890.2 179.3,890.2 180.3,890.2 181.3,890.2 182.3,890.2 183.3,890.2 184.3,890.2 185.3,890.2 186.3,890.2 187.3,890.2 188.3,890.2 189.3,890.2 190.3,890.2 191.3,890.2 192.3,890.2 193.3,890.2 194.3,890.2 195.3,890.2 196.3,890.2 197.3,890.2 198.3,890.2 199.3,890.2 200.3,890.2 201.3,890.2 202.3,890.2 203.3,890.2 204.3,890.2 205.3,890.2 206.3,890.2 207.3,890.2 208.3,890.2 209.3,890.2 210.3,890.2 211.3,890.2 212.3,890.2 213.3,890.2 214.3,890.2 215.3,890.2 216.3,890.2 217.3,890.2 218.3,890.2 219.3,890.2 220.3,890.2 221.3,890.2 222.3,890.2 223.3,890.2 224.3,890.2 225.4,890.2 226.4,890.2 227.4,890.2 228.4,890.2 229.4,890.2 230.4,890.2 231.4,890.2 232.4,890.2 233.4,890.2 234.4,890.2 235.4,890.2 236.4,890.2 237.4,890.2 238.4,890.2 239.4,890.2 240.4,890.2 241.4,890.2 242.4,890.2 243.4,890.2 244.4,890.2 245.4,890.2 246.4,890.2 247.4,890.2 248.4,890.2 249.4,890.2 250.4,890.2 251.4,890.2 252.4,890.2 253.4,890.2 254.4,890.2 255.4,890.2 256.4,890.2 257.4,890.2 258.4,890.2 259.4,890.2 260.4,890.2 261.4,890.2 262.4,890.2 263.4,890.2 264.4,890.2 265.4,890.2 266.4,890.2 267.4,890.2 268.4,890.2 269.4,890.2 270.4,890.2 271.4,890.2 272.4,890.2 273.4,890.2 274.4,890.2 275.4,890.2 276.4,890.2 277.4,890.2" fill="none" stroke="#2ca02c" stroke-width="3.0" stroke-linecap="square" stroke-linejoin="round"/>
</g>
<line x1="37.90" y1="892.50" x2="40.40" y2="892.50" stroke="#000" stroke-width="1.0" stroke-linecap="butt"/>
<text transform="matrix(1.1152 0 0 1 25.16 894.55)" font-size="7.00" fill="#1a1a1a">0.0</text>
<line x1="37.90" y1="866.50" x2="40.40" y2="866.50" stroke="#606060" stroke-width="1.0" stroke-linecap="butt"/>
<text transform="matrix(1.1152 0 0 1 25.24 869.02)" font-size="7.00" fill="#1a1a1a">0.1</text>
<line x1="37.90" y1="841.50" x2="40.40" y2="841.50" stroke="#606060" stroke-width="1.0" stroke-linecap="butt"/>
<text transform="matrix(1.1152 0 0 1 25.24 843.49)" font-size="7.00" fill="#1a1a1a">0.2</text>
<line x1="37.90" y1="815.50" x2="40.40" y2="815.50" stroke="#606060" stroke-width="1.0" stroke-linecap="butt"/>
<text transform="matrix(1.1152 0 0 1 25.16 817.96)" font-size="7.00" fill="#1a1a1a">0.3</text>
<line x1="37.90" y1="789.50" x2="40.40" y2="789.50" stroke="#606060" stroke-width="1.0" stroke-linecap="butt"/>
<text transform="matrix(1.1152 0 0 1 25.08 792.44)" font-size="7.00" fill="#1a1a1a">0.4</text>
<line x1="37.90" y1="764.50" x2="40.40" y2="764.50" stroke="#606060" stroke-width="1.0" stroke-linecap="butt"/>
<text transform="matrix(1.1152 0 0 1 25.16 766.91)" font-size="7.00" fill="#1a1a1a">0.5</text>
<line x1="37.90" y1="738.50" x2="40.40" y2="738.50" stroke="#606060" stroke-width="1.0" stroke-linecap="butt"/>
<text transform="matrix(1.1152 0 0 1 25.16 741.38)" font-size="7.00" fill="#1a1a1a">0.6</text>
<line x1="37.90" y1="713.50" x2="40.40" y2="713.50" stroke="#000" stroke-width="1.0" stroke-linecap="butt"/>
<text transform="matrix(1.1152 0 0 1 25.24 715.85)" font-size="7.00" fill="#1a1a1a">0.7</text>
<line x1="40.50" y1="892.10" x2="40.50" y2="894.60" stroke="#000" stroke-width="1.0" stroke-linecap="butt"/>
<text transform="matrix(1.1152 0 0 1 38.21 902.20)" font-size="7.00" fill="#1a1a1a">0</text>
<line x1="88.50" y1="892.10" x2="88.50" y2="894.60" stroke="#606060" stroke-width="1.0" stroke-linecap="butt"/>
<text transform="matrix(1.1152 0 0 1 79.88 902.20)" font-size="7.00" fill="#1a1a1a">5000</text>
<line x1="136.50" y1="892.10" x2="136.50" y2="894.60" stroke="#606060" stroke-width="1.0" stroke-linecap="butt"/>
<text transform="matrix(1.1152 0 0 1 125.79 902.20)" font-size="7.00" fill="#1a1a1a">10000</text>
<line x1="184.50" y1="892.10" x2="184.50" y2="894.60" stroke="#606060" stroke-width="1.0" stroke-linecap="butt"/>
<text transform="matrix(1.1152 0 0 1 173.97 902.20)" font-size="7.00" fill="#1a1a1a">15000</text>
<line x1="233.50" y1="892.10" x2="233.50" y2="894.60" stroke="#606060" stroke-width="1.0" stroke-linecap="butt"/>
<text transform="matrix(1.1152 0 0 1 222.23 902.20)" font-size="7.00" fill="#1a1a1a">20000</text>
<line x1="281.50" y1="892.10" x2="281.50" y2="894.60" stroke="#606060" stroke-width="1.0" stroke-linecap="butt"/>
<text transform="matrix(1.1152 0 0 1 270.41 902.20)" font-size="7.00" fill="#1a1a1a">25000</text>
<text transform="matrix(0.9967 0 0 1 116.85 709.10)" font-size="9.04" fill="#000">Convergence of K=10</text>
<text transform="matrix(1.0461 0 0 1 130.70 912.70)" font-size="7.40" fill="#000">Iteration Number</text>
<text transform="matrix(0 -0.9485 1 0 21.30 820.88)" font-size="7.67" fill="#000">MSE Value</text>
<rect x="239.4" y="716.8" width="38.20" height="42.10" rx="1.3" ry="1.3" fill="#fff" stroke="#e0e0e0" stroke-width="0.8"/>
<line x1="241.10" y1="724.50" x2="261.00" y2="724.50" stroke="#1f77b4" stroke-width="3.5" stroke-linecap="butt"/>
<line x1="241.10" y1="737.40" x2="261.00" y2="737.40" stroke="#ff7f0e" stroke-width="3.5" stroke-linecap="butt"/>
<line x1="241.10" y1="750.50" x2="261.00" y2="750.50" stroke="#2ca02c" stroke-width="3.5" stroke-linecap="butt"/>
<text transform="matrix(1.1865 0 0 1 265.17 726.50)" font-size="7.81" fill="#000">Id</text>
<text transform="matrix(1.0850 0 0 1 265.44 739.50)" font-size="8.12" font-style="italic" fill="#000">K</text>
<text transform="matrix(1.5046 0 0 1 271.00 740.40)" font-size="4.92" font-style="italic" fill="#000">t</text>
<text transform="matrix(1.0850 0 0 1 265.44 752.60)" font-size="8.12" font-style="italic" fill="#000">K</text>
<line x1="357.50" y1="713.50" x2="357.50" y2="892.50" stroke="#e6e6e6" stroke-width="1.0" stroke-linecap="butt"/>
<line x1="357.00" y1="892.50" x2="599.00" y2="892.50" stroke="#000" stroke-width="1.0" stroke-linecap="butt"/>
<line x1="357.00" y1="713.50" x2="599.00" y2="713.50" stroke="#000" stroke-width="1.0" stroke-linecap="butt"/>
<line x1="598.50" y1="713.50" x2="598.50" y2="892.50" stroke="#000" stroke-width="1.0" stroke-linecap="butt"/>
<clipPath id="c7492"><rect x="357.90" y="713.50" width="240.70" height="178.50"/></clipPath><g clip-path="url(#c7492)">
<polyline points="357.9,763.5 358.0,763.8 358.2,764.0 359.2,764.0 360.2,764.0 361.2,764.1 362.2,764.1 363.2,764.1 364.2,764.1 365.2,764.2 366.2,764.2 367.2,764.2 368.2,764.2 369.2,764.2 370.2,764.2 371.2,764.2 372.2,764.3 373.2,764.3 374.2,764.3 375.2,764.3 376.2,764.3 377.2,764.3 378.2,764.3 379.2,764.3 380.2,764.3 381.2,764.3 382.2,764.3 383.2,764.3 384.2,764.3 385.2,764.3 386.2,764.3 387.2,764.3 388.2,764.4 389.2,764.4 390.2,764.4 391.3,764.4 392.3,764.4 393.3,764.4 394.3,764.4 395.3,764.4 396.3,764.4 397.3,764.4 398.3,764.4 399.3,764.4 400.3,764.4 401.3,764.4 402.3,764.4 403.3,764.4 404.3,764.4 405.3,764.4 406.3,764.4 407.3,764.5 408.3,764.5 409.3,764.5 410.3,764.5 411.3,764.5 412.3,764.5 413.3,764.5 414.3,764.5 415.4,764.6 416.4,764.6 417.4,764.6 418.4,764.6 419.5,764.6 420.5,764.6 421.5,764.7 422.5,764.7 423.5,764.7 424.6,764.7 425.6,764.7 426.6,764.7 427.6,764.8 428.6,764.8 429.7,764.8 430.7,764.8 431.7,764.8 432.7,764.9 433.7,764.9 434.8,764.9 435.8,764.9 436.8,765.0 437.8,765.0 438.8,765.0 439.9,765.1 440.9,765.1 441.9,765.1 442.9,765.2 443.9,765.2 445.0,765.2 446.0,765.3 447.0,765.3 448.0,765.3 449.0,765.4 450.1,765.4 451.1,765.5 452.1,765.5 453.1,765.6 454.1,765.7 455.2,765.7 456.2,765.9 457.2,766.0 458.2,766.1 459.2,766.3 460.3,766.4 461.3,766.6 462.3,766.8 463.3,767.0 464.3,767.2 465.3,767.4 466.4,767.6 467.4,767.8 468.4,768.0 469.4,768.2 470.4,768.4 471.5,768.6 472.5,768.8 473.5,769.0 474.5,769.3 475.5,769.5 476.6,769.7 477.6,769.9 478.6,770.2 479.6,770.4 480.7,770.7 481.7,770.9 482.7,771.2 483.7,771.5 484.7,771.8 485.8,772.0 486.8,772.3 487.8,772.6 488.8,772.9 489.9,773.2 491.0,773.5 492.1,773.8 493.2,774.2 494.3,774.5 495.4,775.0 496.5,775.5 497.5,776.1 498.5,776.8 499.6,777.8 500.6,778.8 501.6,780.0 502.7,781.2 503.7,782.5 504.7,783.8 505.7,785.1 506.8,786.4 507.9,788.2 509.1,790.4 510.2,792.6 511.4,794.2 512.6,794.8 513.6,794.5 514.6,793.8 515.7,792.9 516.7,792.1 517.8,791.8 518.8,791.9 519.9,792.4 521.0,793.0 522.1,793.8 523.2,794.8 524.3,795.8 525.3,796.9 526.4,798.0 527.5,799.0 528.6,799.9 529.7,800.7 530.7,801.3 531.7,801.9 532.8,802.5 533.8,803.0 534.8,803.5 535.8,804.1 536.9,804.6 537.9,805.1 538.9,805.7 540.0,806.3 541.0,807.0 542.0,807.6 543.0,808.3 544.0,809.0 545.0,809.7 546.0,810.4 547.1,811.1 548.1,811.8 549.1,812.6 550.1,813.3 551.1,814.0 552.2,814.8 553.2,815.5 554.2,816.2 555.2,817.0 556.3,817.8 557.3,818.5 558.3,819.3 559.3,820.0 560.4,820.8 561.4,821.6 562.4,822.4 563.4,823.2 564.4,824.0 565.5,824.7 566.5,825.5 567.5,826.3 568.5,827.1 569.6,827.9 570.6,828.7 571.6,829.5 572.6,830.4 573.7,831.2 574.7,832.1 575.7,832.9 576.7,833.8 577.7,834.7 578.8,835.6 579.8,836.6 580.8,837.6 581.9,838.6 582.9,839.6 583.9,840.6 585.0,841.7 586.0,842.8 587.0,843.9 588.1,845.0 589.1,846.1 590.1,847.2 591.2,848.4 592.2,849.6 593.2,850.8 594.3,852.0" fill="none" stroke="#1f77b4" stroke-width="3.6" stroke-linecap="square" stroke-linejoin="round"/>
<polyline points="357.9,763.5 359.0,764.3 360.0,766.7 361.1,770.3 362.2,774.9 363.2,780.2 364.3,785.9 365.3,794.1 366.4,805.3 367.4,816.5 368.7,829.3 369.9,842.3 371.2,854.8 372.5,869.2 373.7,883.2 375.0,889.5 376.0,889.5 377.0,889.5 378.0,889.5 379.0,889.5 380.0,889.5 381.0,889.5 382.0,889.5 383.0,889.6 384.0,889.6 385.0,889.6 386.0,889.6 387.0,889.6 388.0,889.6 389.0,889.6 390.1,889.6 391.1,889.7 392.1,889.7 393.1,889.7 394.1,889.7 395.1,889.7 396.1,889.7 397.1,889.7 398.1,889.7 399.1,889.7 400.1,889.8 401.1,889.8 402.1,889.8 403.1,889.8 404.1,889.8 405.1,889.8 406.1,889.8 407.1,889.8 408.1,889.8 409.1,889.8 410.1,889.9 411.1,889.9 412.1,889.9 413.1,889.9 414.1,889.9 415.1,889.9 416.1,889.9 417.1,889.9 418.1,889.9 419.1,889.9 420.2,890.0 421.2,890.0 422.2,890.0 423.2,890.0 424.2,890.0 425.2,890.0 426.2,890.0 427.2,890.0 428.2,890.0 429.2,890.0 430.2,890.0 431.2,890.0 432.2,890.0 433.2,890.1 434.2,890.1 435.2,890.1 436.2,890.1 437.2,890.1 438.2,890.1 439.2,890.1 440.2,890.1 441.2,890.1 442.2,890.1 443.2,890.1 444.2,890.1 445.2,890.1 446.2,890.1 447.2,890.2 448.2,890.2 449.3,890.2 450.3,890.2 451.3,890.2 452.3,890.2 453.3,890.2 454.3,890.2 455.3,890.2 456.3,890.2 457.3,890.2 458.3,890.2 459.3,890.2 460.3,890.2 461.3,890.2 462.3,890.2 463.3,890.2 464.3,890.2 465.3,890.3 466.3,890.3 467.3,890.3 468.3,890.3 469.3,890.3 470.3,890.3 471.3,890.3 472.3,890.3 473.3,890.3 474.3,890.3 475.3,890.3 476.3,890.3 477.3,890.3 478.4,890.3 479.4,890.3 480.4,890.3 481.4,890.3 482.4,890.3 483.4,890.3 484.4,890.3 485.4,890.3 486.4,890.3 487.4,890.3 488.4,890.3 489.4,890.4 490.4,890.4 491.4,890.4 492.4,890.4 493.4,890.4 494.4,890.4 495.4,890.4 496.4,890.4 497.4,890.4 498.4,890.4 499.4,890.4 500.4,890.4 501.4,890.4 502.4,890.4 503.4,890.4 504.4,890.4 505.4,890.4 506.4,890.4 507.5,890.4 508.5,890.4 509.5,890.4 510.5,890.4 511.5,890.4 512.5,890.4 513.5,890.4 514.5,890.4 515.5,890.4 516.5,890.4 517.5,890.4 518.5,890.4 519.5,890.4 520.5,890.4 521.5,890.4 522.5,890.4 523.5,890.4 524.5,890.4 525.5,890.4 526.5,890.4 527.5,890.4 528.5,890.4 529.5,890.4 530.5,890.4 531.5,890.4 532.5,890.4 533.5,890.4 534.5,890.4 535.5,890.4 536.6,890.4 537.6,890.4 538.6,890.5 539.6,890.5 540.6,890.5 541.6,890.5 542.6,890.5 543.6,890.5 544.6,890.5 545.6,890.5 546.6,890.5 547.6,890.5 548.6,890.5 549.6,890.5 550.6,890.5 551.6,890.5 552.6,890.5 553.6,890.5 554.6,890.5 555.6,890.5 556.6,890.5 557.6,890.5 558.6,890.5 559.6,890.5 560.6,890.5 561.6,890.5 562.6,890.5 563.6,890.5 564.6,890.5 565.6,890.5 566.7,890.5 567.7,890.5 568.7,890.5 569.7,890.5 570.7,890.5 571.7,890.5 572.7,890.5 573.7,890.5 574.7,890.5 575.7,890.5 576.7,890.5 577.7,890.5 578.7,890.5 579.7,890.5 580.7,890.5 581.7,890.5 582.7,890.5 583.7,890.5 584.7,890.5 585.7,890.5 586.7,890.5 587.7,890.5 588.7,890.5 589.7,890.5 590.7,890.5 591.7,890.5 592.7,890.5 593.7,890.5 594.7,890.5" fill="none" stroke="#ff7f0e" stroke-width="3.0" stroke-linecap="square" stroke-linejoin="round"/>
<polyline points="357.9,764.5 359.0,768.0 360.1,774.4 361.2,782.6 362.2,794.0 363.3,809.3 364.3,824.2 365.3,837.3 366.4,850.0 367.4,862.4 368.5,878.7 369.7,888.3 370.7,888.3 371.7,888.3 372.7,888.3 373.7,888.3 374.7,888.3 375.7,888.3 376.7,888.3 377.7,888.3 378.7,888.3 379.7,888.3 380.7,888.3 381.7,888.3 382.7,888.3 383.7,888.3 384.7,888.3 385.7,888.3 386.7,888.3 387.7,888.3 388.7,888.3 389.7,888.3 390.7,888.3 391.7,888.3 392.7,888.3 393.7,888.3 394.7,888.3 395.7,888.3 396.7,888.3 397.7,888.3 398.7,888.3 399.7,888.3 400.7,888.3 401.7,888.3 402.7,888.3 403.7,888.3 404.7,888.3 405.7,888.3 406.7,888.3 407.7,888.3 408.7,888.3 409.7,888.3 410.7,888.3 411.7,888.3 412.7,888.3 413.7,888.3 414.7,888.3 415.7,888.3 416.7,888.3 417.7,888.3 418.7,888.3 419.7,888.3 420.7,888.3 421.7,888.3 422.7,888.3 423.7,888.3 424.7,888.3 425.7,888.3 426.7,888.3 427.7,888.3 428.7,888.3 429.7,888.3 430.7,888.3 431.7,888.3 432.7,888.3 433.7,888.3 434.7,888.3 435.7,888.3 436.7,888.3 437.7,888.3 438.7,888.3 439.7,888.3 440.7,888.3 441.7,888.3 442.7,888.3 443.7,888.3 444.7,888.3 445.7,888.3 446.7,888.3 447.7,888.3 448.7,888.3 449.7,888.3 450.7,888.3 451.7,888.3 452.7,888.3 453.7,888.3 454.7,888.3 455.7,888.3 456.7,888.3 457.7,888.3 458.7,888.3 459.7,888.3 460.7,888.3 461.7,888.3 462.7,888.3 463.7,888.3 464.7,888.3 465.7,888.3 466.7,888.3 467.7,888.3 468.7,888.3 469.7,888.3 470.7,888.3 471.7,888.3 472.7,888.3 473.7,888.3 474.7,888.3 475.7,888.3 476.7,888.3 477.7,888.3 478.7,888.3 479.7,888.3 480.7,888.3 481.7,888.3 482.7,888.3 483.7,888.3 484.7,888.3 485.7,888.3 486.7,888.3 487.7,888.3 488.7,888.3 489.7,888.3 490.7,888.3 491.7,888.3 492.7,888.3 493.7,888.3 494.7,888.3 495.7,888.3 496.7,888.3 497.7,888.3 498.7,888.3 499.7,888.3 500.7,888.3 501.7,888.3 502.7,888.3 503.7,888.3 504.7,888.3 505.7,888.3 506.7,888.3 507.7,888.3 508.7,888.3 509.7,888.3 510.7,888.3 511.7,888.3 512.7,888.3 513.7,888.3 514.7,888.3 515.7,888.3 516.7,888.3 517.7,888.3 518.7,888.3 519.7,888.3 520.7,888.3 521.7,888.3 522.7,888.3 523.7,888.3 524.7,888.3 525.7,888.3 526.7,888.3 527.7,888.3 528.7,888.3 529.7,888.3 530.7,888.3 531.7,888.3 532.7,888.3 533.7,888.3 534.7,888.3 535.7,888.3 536.7,888.3 537.7,888.3 538.7,888.3 539.7,888.3 540.7,888.3 541.7,888.3 542.7,888.3 543.7,888.3 544.7,888.3 545.7,888.3 546.7,888.3 547.7,888.3 548.7,888.3 549.7,888.3 550.7,888.3 551.7,888.3 552.7,888.3 553.7,888.3 554.7,888.3 555.7,888.3 556.7,888.3 557.7,888.3 558.7,888.3 559.7,888.3 560.7,888.3 561.7,888.3 562.7,888.3 563.7,888.3 564.7,888.3 565.7,888.3 566.7,888.3 567.7,888.3 568.7,888.3 569.7,888.3 570.7,888.3 571.7,888.3 572.7,888.3 573.7,888.3 574.7,888.3 575.7,888.3 576.7,888.3 577.7,888.3 578.7,888.3 579.7,888.3 580.7,888.3 581.7,888.3 582.7,888.3 583.7,888.3 584.7,888.3 585.7,888.3 586.7,888.3 587.7,888.3 588.7,888.3 589.7,888.3 590.7,888.3 591.7,888.3 592.7,888.3 593.7,888.3 594.7,888.3" fill="none" stroke="#2ca02c" stroke-width="3.0" stroke-linecap="square" stroke-linejoin="round"/>
</g>
<line x1="355.40" y1="892.50" x2="357.90" y2="892.50" stroke="#000" stroke-width="1.0" stroke-linecap="butt"/>
<text transform="matrix(1.1152 0 0 1 341.46 894.45)" font-size="7.00" fill="#1a1a1a">0.0</text>
<line x1="355.40" y1="866.50" x2="357.90" y2="866.50" stroke="#404040" stroke-width="1.0" stroke-linecap="butt"/>
<text transform="matrix(1.1152 0 0 1 341.54 868.95)" font-size="7.00" fill="#1a1a1a">0.1</text>
<line x1="355.40" y1="841.50" x2="357.90" y2="841.50" stroke="#404040" stroke-width="1.0" stroke-linecap="butt"/>
<text transform="matrix(1.1152 0 0 1 341.54 843.45)" font-size="7.00" fill="#1a1a1a">0.2</text>
<line x1="355.40" y1="815.50" x2="357.90" y2="815.50" stroke="#404040" stroke-width="1.0" stroke-linecap="butt"/>
<text transform="matrix(1.1152 0 0 1 341.46 817.95)" font-size="7.00" fill="#1a1a1a">0.3</text>
<line x1="355.40" y1="790.50" x2="357.90" y2="790.50" stroke="#404040" stroke-width="1.0" stroke-linecap="butt"/>
<text transform="matrix(1.1152 0 0 1 341.38 792.45)" font-size="7.00" fill="#1a1a1a">0.4</text>
<line x1="355.40" y1="764.50" x2="357.90" y2="764.50" stroke="#404040" stroke-width="1.0" stroke-linecap="butt"/>
<text transform="matrix(1.1152 0 0 1 341.46 766.95)" font-size="7.00" fill="#1a1a1a">0.5</text>
<line x1="355.40" y1="739.50" x2="357.90" y2="739.50" stroke="#404040" stroke-width="1.0" stroke-linecap="butt"/>
<text transform="matrix(1.1152 0 0 1 341.46 741.45)" font-size="7.00" fill="#1a1a1a">0.6</text>
<line x1="355.40" y1="713.50" x2="357.90" y2="713.50" stroke="#000" stroke-width="1.0" stroke-linecap="butt"/>
<text transform="matrix(1.1152 0 0 1 341.54 715.95)" font-size="7.00" fill="#1a1a1a">0.7</text>
<line x1="357.50" y1="892.00" x2="357.50" y2="894.50" stroke="#000" stroke-width="1.0" stroke-linecap="butt"/>
<text transform="matrix(1.1152 0 0 1 355.71 902.20)" font-size="7.00" fill="#1a1a1a">0</text>
<line x1="406.50" y1="892.00" x2="406.50" y2="894.50" stroke="#404040" stroke-width="1.0" stroke-linecap="butt"/>
<text transform="matrix(1.1152 0 0 1 397.34 902.20)" font-size="7.00" fill="#1a1a1a">5000</text>
<line x1="454.50" y1="892.00" x2="454.50" y2="894.50" stroke="#404040" stroke-width="1.0" stroke-linecap="butt"/>
<text transform="matrix(1.1152 0 0 1 443.21 902.20)" font-size="7.00" fill="#1a1a1a">10000</text>
<line x1="502.50" y1="892.00" x2="502.50" y2="894.50" stroke="#404040" stroke-width="1.0" stroke-linecap="butt"/>
<text transform="matrix(1.1152 0 0 1 491.35 902.20)" font-size="7.00" fill="#1a1a1a">15000</text>
<line x1="550.50" y1="892.00" x2="550.50" y2="894.50" stroke="#404040" stroke-width="1.0" stroke-linecap="butt"/>
<text transform="matrix(1.1152 0 0 1 539.57 902.20)" font-size="7.00" fill="#1a1a1a">20000</text>
<line x1="598.50" y1="892.00" x2="598.50" y2="894.50" stroke="#404040" stroke-width="1.0" stroke-linecap="butt"/>
<text transform="matrix(1.1152 0 0 1 587.71 902.20)" font-size="7.00" fill="#1a1a1a">25000</text>
<text transform="matrix(1.0081 0 0 1 433.64 709.10)" font-size="9.04" fill="#000">Convergence of K=12</text>
<text transform="matrix(1.0553 0 0 1 448.30 912.70)" font-size="7.40" fill="#000">Iteration Number</text>
<text transform="matrix(0 -1.0502 1 0 338.40 820.48)" font-size="6.85" fill="#000">MSE Value</text>
<rect x="557.2" y="716.8" width="37.70" height="42.20" rx="1.3" ry="1.3" fill="#fff" stroke="#e0e0e0" stroke-width="0.8"/>
<line x1="559.00" y1="724.50" x2="578.00" y2="724.50" stroke="#1f77b4" stroke-width="3.5" stroke-linecap="butt"/>
<line x1="559.00" y1="737.40" x2="578.00" y2="737.40" stroke="#ff7f0e" stroke-width="3.5" stroke-linecap="butt"/>
<line x1="559.00" y1="750.50" x2="578.00" y2="750.50" stroke="#2ca02c" stroke-width="3.5" stroke-linecap="butt"/>
<text transform="matrix(1.1865 0 0 1 582.17 726.50)" font-size="7.81" fill="#000">Id</text>
<text transform="matrix(1.0850 0 0 1 582.44 739.50)" font-size="8.12" font-style="italic" fill="#000">K</text>
<text transform="matrix(1.5046 0 0 1 588.00 740.40)" font-size="4.92" font-style="italic" fill="#000">t</text>
<text transform="matrix(1.0850 0 0 1 582.44 752.60)" font-size="8.12" font-style="italic" fill="#000">K</text>
</svg></body></html>
